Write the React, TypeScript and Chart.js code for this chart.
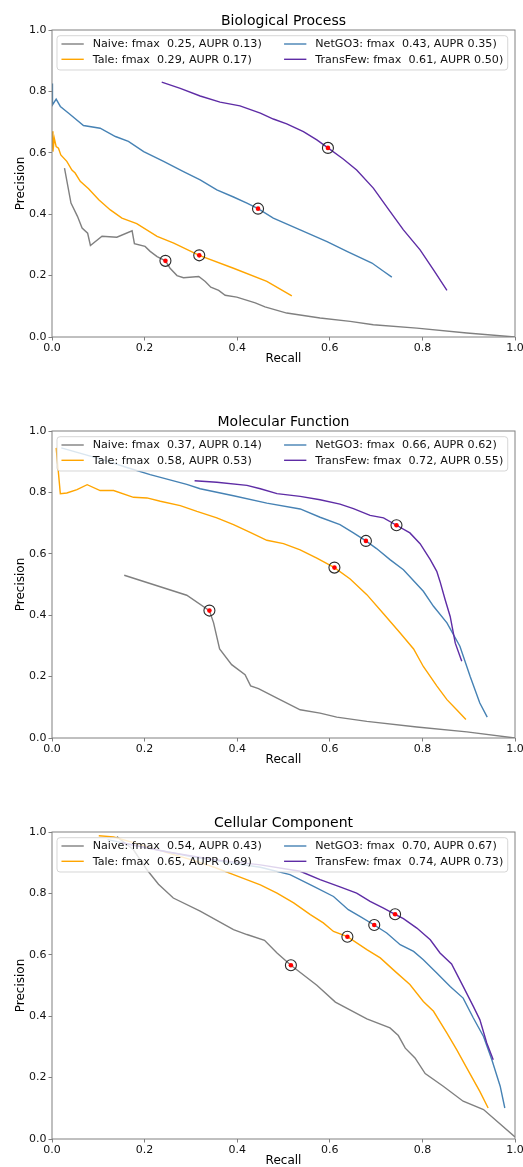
import React, { useEffect, useRef } from "react";
import { Chart, registerables } from "chart.js";

Chart.register(...registerables);

// ---------- shared ----------
const methodNames = ["Naive", "Tale", "NetGO3", "TransFew"];
const methodColors = ["#808080", "#FFA500", "#4682B4", "#5E2CA5"];
const axisTicks = [0, 0.2, 0.4, 0.6, 0.8, 1.0];

// ---------- Biological Process ----------
const bpTitle = "Biological Process";
const bpFmax = [0.25, 0.29, 0.43, 0.61];
const bpAupr = [0.13, 0.17, 0.35, 0.5];
const bpNaiveRecall = [0.027, 0.041, 0.055, 0.065, 0.077, 0.083, 0.108, 0.14, 0.173, 0.178, 0.201, 0.212, 0.227, 0.245, 0.255, 0.27, 0.284, 0.317, 0.331, 0.343, 0.36, 0.374, 0.399, 0.439, 0.46, 0.507, 0.579, 0.644, 0.694, 0.788, 0.896, 1.0];
const bpNaivePrecision = [0.55, 0.436, 0.393, 0.355, 0.338, 0.298, 0.328, 0.325, 0.346, 0.304, 0.295, 0.279, 0.262, 0.248, 0.224, 0.2, 0.193, 0.197, 0.181, 0.162, 0.152, 0.136, 0.13, 0.111, 0.098, 0.078, 0.062, 0.051, 0.04, 0.029, 0.013, 0.0];
const bpTaleRecall = [0.0, 0.002, 0.005, 0.009, 0.014, 0.019, 0.032, 0.043, 0.05, 0.061, 0.079, 0.101, 0.126, 0.151, 0.183, 0.227, 0.263, 0.318, 0.392, 0.464, 0.518];
const bpTalePrecision = [0.67, 0.604, 0.647, 0.62, 0.615, 0.593, 0.572, 0.544, 0.534, 0.507, 0.483, 0.447, 0.414, 0.387, 0.369, 0.328, 0.306, 0.266, 0.224, 0.181, 0.134];
const bpNetGO3Recall = [0.0, 0.001, 0.009, 0.018, 0.036, 0.068, 0.104, 0.137, 0.165, 0.198, 0.241, 0.284, 0.32, 0.356, 0.392, 0.421, 0.445, 0.478, 0.536, 0.594, 0.637, 0.691, 0.716, 0.734];
const bpNetGO3Precision = [0.826, 0.756, 0.775, 0.751, 0.729, 0.689, 0.68, 0.653, 0.637, 0.604, 0.572, 0.539, 0.512, 0.479, 0.456, 0.436, 0.418, 0.387, 0.349, 0.311, 0.279, 0.241, 0.214, 0.195];
const bpTransFewRecall = [0.237, 0.277, 0.32, 0.363, 0.406, 0.45, 0.478, 0.507, 0.543, 0.572, 0.596, 0.629, 0.658, 0.694, 0.73, 0.759, 0.795, 0.824, 0.853];
const bpTransFewPrecision = [0.83, 0.81, 0.785, 0.765, 0.753, 0.729, 0.71, 0.694, 0.669, 0.642, 0.616, 0.58, 0.544, 0.485, 0.409, 0.349, 0.284, 0.219, 0.152];
const bpOptRecall = [0.245, 0.318, 0.445, 0.596];
const bpOptPrecision = [0.248, 0.266, 0.418, 0.616];

// ---------- Molecular Function ----------
const mfTitle = "Molecular Function";
const mfFmax = [0.37, 0.58, 0.66, 0.72];
const mfAupr = [0.14, 0.53, 0.62, 0.55];
const mfNaiveRecall = [0.156, 0.291, 0.34, 0.349, 0.362, 0.388, 0.417, 0.429, 0.446, 0.486, 0.536, 0.579, 0.615, 0.68, 0.788, 0.896, 1.0];
const mfNaivePrecision = [0.53, 0.465, 0.415, 0.375, 0.29, 0.239, 0.206, 0.17, 0.161, 0.13, 0.092, 0.081, 0.068, 0.054, 0.036, 0.02, 0.0];
const mfTaleRecall = [0.009, 0.018, 0.032, 0.054, 0.076, 0.104, 0.133, 0.176, 0.205, 0.234, 0.277, 0.313, 0.356, 0.392, 0.428, 0.464, 0.5, 0.536, 0.572, 0.61, 0.644, 0.68, 0.716, 0.752, 0.781, 0.802, 0.831, 0.853, 0.874, 0.894];
const mfTalePrecision = [0.945, 0.796, 0.798, 0.809, 0.825, 0.806, 0.806, 0.784, 0.782, 0.771, 0.757, 0.738, 0.717, 0.695, 0.67, 0.644, 0.633, 0.613, 0.586, 0.555, 0.518, 0.467, 0.405, 0.342, 0.29, 0.233, 0.17, 0.125, 0.092, 0.06];
const mfNetGO3Recall = [0.02, 0.06, 0.111, 0.16, 0.212, 0.291, 0.32, 0.392, 0.464, 0.536, 0.579, 0.622, 0.651, 0.678, 0.701, 0.73, 0.759, 0.802, 0.824, 0.853, 0.881, 0.903, 0.924, 0.94];
const mfNetGO3Precision = [0.945, 0.928, 0.906, 0.882, 0.858, 0.826, 0.812, 0.789, 0.765, 0.746, 0.719, 0.695, 0.668, 0.642, 0.617, 0.581, 0.548, 0.478, 0.429, 0.375, 0.299, 0.201, 0.114, 0.068];
const mfTransFewRecall = [0.308, 0.356, 0.421, 0.45, 0.486, 0.536, 0.579, 0.622, 0.651, 0.687, 0.716, 0.744, 0.773, 0.795, 0.817, 0.831, 0.838, 0.849, 0.86, 0.871, 0.885];
const mfTransFewPrecision = [0.838, 0.833, 0.823, 0.812, 0.796, 0.787, 0.776, 0.762, 0.747, 0.725, 0.717, 0.693, 0.668, 0.633, 0.581, 0.543, 0.51, 0.451, 0.396, 0.309, 0.25];
const mfOptRecall = [0.34, 0.61, 0.678, 0.744];
const mfOptPrecision = [0.415, 0.555, 0.642, 0.693];

// ---------- Cellular Component ----------
const ccTitle = "Cellular Component";
const ccFmax = [0.54, 0.65, 0.7, 0.74];
const ccAupr = [0.43, 0.69, 0.67, 0.73];
const ccNaiveRecall = [0.14, 0.176, 0.205, 0.23, 0.262, 0.32, 0.392, 0.421, 0.459, 0.486, 0.516, 0.572, 0.612, 0.68, 0.73, 0.748, 0.763, 0.784, 0.806, 0.845, 0.888, 0.932, 1.0];
const ccNaivePrecision = [0.985, 0.942, 0.877, 0.83, 0.785, 0.742, 0.682, 0.666, 0.647, 0.606, 0.566, 0.501, 0.446, 0.391, 0.362, 0.337, 0.296, 0.264, 0.213, 0.172, 0.123, 0.096, 0.007];
const ccTaleRecall = [0.101, 0.133, 0.2, 0.25, 0.3, 0.349, 0.392, 0.45, 0.486, 0.522, 0.558, 0.586, 0.608, 0.638, 0.68, 0.709, 0.741, 0.773, 0.802, 0.824, 0.853, 0.874, 0.896, 0.924, 0.942];
const ccTalePrecision = [0.988, 0.984, 0.955, 0.932, 0.91, 0.886, 0.861, 0.828, 0.801, 0.769, 0.731, 0.704, 0.676, 0.659, 0.617, 0.59, 0.546, 0.503, 0.448, 0.416, 0.345, 0.291, 0.231, 0.155, 0.101];
const ccNetGO3Recall = [0.12, 0.2, 0.3, 0.4, 0.45, 0.514, 0.565, 0.608, 0.64, 0.665, 0.696, 0.723, 0.752, 0.781, 0.802, 0.831, 0.86, 0.888, 0.91, 0.932, 0.95, 0.968, 0.978];
const ccNetGO3Precision = [0.975, 0.95, 0.92, 0.896, 0.885, 0.861, 0.823, 0.79, 0.747, 0.725, 0.697, 0.671, 0.633, 0.611, 0.584, 0.541, 0.497, 0.459, 0.394, 0.334, 0.258, 0.172, 0.101];
const ccTransFewRecall = [0.15, 0.25, 0.35, 0.45, 0.536, 0.579, 0.622, 0.658, 0.687, 0.716, 0.741, 0.759, 0.788, 0.817, 0.838, 0.863, 0.888, 0.91, 0.924, 0.939, 0.953];
const ccTransFewPrecision = [0.965, 0.935, 0.91, 0.893, 0.872, 0.845, 0.821, 0.801, 0.774, 0.752, 0.732, 0.718, 0.687, 0.649, 0.606, 0.57, 0.497, 0.432, 0.389, 0.313, 0.258];
const ccOptRecall = [0.516, 0.638, 0.696, 0.741];
const ccOptPrecision = [0.566, 0.659, 0.697, 0.732];

type PanelSpec = {
  title: string;
  fmax: number[];
  aupr: number[];
  recalls: number[][];
  precisions: number[][];
  optRecall: number[];
  optPrecision: number[];
};

const panels: PanelSpec[] = [
  {
    title: bpTitle, fmax: bpFmax, aupr: bpAupr,
    recalls: [bpNaiveRecall, bpTaleRecall, bpNetGO3Recall, bpTransFewRecall],
    precisions: [bpNaivePrecision, bpTalePrecision, bpNetGO3Precision, bpTransFewPrecision],
    optRecall: bpOptRecall, optPrecision: bpOptPrecision,
  },
  {
    title: mfTitle, fmax: mfFmax, aupr: mfAupr,
    recalls: [mfNaiveRecall, mfTaleRecall, mfNetGO3Recall, mfTransFewRecall],
    precisions: [mfNaivePrecision, mfTalePrecision, mfNetGO3Precision, mfTransFewPrecision],
    optRecall: mfOptRecall, optPrecision: mfOptPrecision,
  },
  {
    title: ccTitle, fmax: ccFmax, aupr: ccAupr,
    recalls: [ccNaiveRecall, ccTaleRecall, ccNetGO3Recall, ccTransFewRecall],
    precisions: [ccNaivePrecision, ccTalePrecision, ccNetGO3Precision, ccTransFewPrecision],
    optRecall: ccOptRecall, optPrecision: ccOptPrecision,
  },
];

const FONT = '"DejaVu Sans", "Liberation Sans", sans-serif';
const PANEL_TOPS = [0, 401, 802];
const CANVAS_W = 530;
const CANVAS_H = 367;
const FRAME_COLOR = "#808080";

// Draws the matplotlib-like axes frame and a two-column legend inside the axes.
const mplDecor = {
  id: "mplDecor",
  afterDatasetsDraw(chart: any) {
    const ctx = chart.ctx as CanvasRenderingContext2D;
    const area = chart.chartArea;
    ctx.save();
    // frame (all four spines)
    ctx.strokeStyle = FRAME_COLOR;
    ctx.lineWidth = 1;
    ctx.strokeRect(area.left, area.top, area.right - area.left, area.bottom - area.top);

    // legend
    const items = chart.data.datasets.filter((d: any) => d.mplLegend);
    const fs = 11.15;
    ctx.font = `${fs}px ${FONT}`;
    const nRows = 2;
    const nCols = Math.ceil(items.length / nRows);
    const pad = 0.4 * fs;
    const handleLen = 2 * fs;
    const handlePad = 0.8 * fs;
    const colSpacing = 2 * fs;
    const boxLeft = area.left + 5;
    const boxTop = area.top + 5.7;
    const boxBottom = area.top + 40;
    const row0 = area.top + 14;
    const rowH = 15.3;
    const colX: number[] = [];
    let x = boxLeft + pad;
    for (let c = 0; c < nCols; c++) {
      colX.push(x);
      let w = 0;
      for (let r = 0; r < nRows; r++) {
        const it = items[c * nRows + r];
        if (it) w = Math.max(w, ctx.measureText(it.label).width);
      }
      x += handleLen + handlePad + w + colSpacing;
    }
    const boxRight = x - colSpacing + pad;
    // box
    const rad = 3;
    ctx.beginPath();
    ctx.moveTo(boxLeft + rad, boxTop);
    ctx.lineTo(boxRight - rad, boxTop);
    ctx.arcTo(boxRight, boxTop, boxRight, boxTop + rad, rad);
    ctx.lineTo(boxRight, boxBottom - rad);
    ctx.arcTo(boxRight, boxBottom, boxRight - rad, boxBottom, rad);
    ctx.lineTo(boxLeft + rad, boxBottom);
    ctx.arcTo(boxLeft, boxBottom, boxLeft, boxBottom - rad, rad);
    ctx.lineTo(boxLeft, boxTop + rad);
    ctx.arcTo(boxLeft, boxTop, boxLeft + rad, boxTop, rad);
    ctx.closePath();
    ctx.fillStyle = "rgba(255,255,255,0.8)";
    ctx.fill();
    ctx.strokeStyle = "rgba(204,204,204,0.8)";
    ctx.lineWidth = 1;
    ctx.stroke();
    // entries
    ctx.textBaseline = "middle";
    ctx.textAlign = "left";
    items.forEach((it: any, i: number) => {
      const c = Math.floor(i / nRows);
      const r = i % nRows;
      const y = row0 + r * rowH;
      const hx = colX[c];
      ctx.strokeStyle = it.borderColor;
      ctx.lineWidth = 1.4;
      ctx.beginPath();
      ctx.moveTo(hx, y);
      ctx.lineTo(hx + handleLen, y);
      ctx.stroke();
      ctx.fillStyle = "#111";
      ctx.fillText(it.label, hx + handleLen + handlePad, y + 0.5);
    });
    ctx.restore();
  },
};

function Panel({ spec, top }: { spec: PanelSpec; top: number }) {
  const ref = useRef<HTMLCanvasElement | null>(null);
  useEffect(() => {
    if (!ref.current) return;
    const lineSets = methodNames.map((name, i) => ({
      label: `${name}: fmax  ${spec.fmax[i].toFixed(2)}, AUPR ${spec.aupr[i].toFixed(2)})`,
      mplLegend: true,
      data: spec.recalls[i].map((r, k) => ({ x: r, y: spec.precisions[i][k] })),
      showLine: true,
      borderColor: methodColors[i],
      backgroundColor: methodColors[i],
      borderWidth: 1.4,
      pointRadius: 0,
      tension: 0,
      fill: false,
      order: 10 - i,
    }));
    const optData = spec.optRecall.map((r, k) => ({ x: r, y: spec.optPrecision[k] }));
    const ring = {
      label: "fmax ring",
      data: optData,
      showLine: false,
      pointStyle: "circle",
      pointRadius: 5.5,
      pointBorderWidth: 1.1,
      pointBorderColor: "#2a2a2a",
      pointBackgroundColor: "rgba(255,255,255,0)",
      order: 1,
    };
    const dot = {
      label: "fmax point",
      data: optData,
      showLine: false,
      pointStyle: "circle",
      pointRadius: 2.3,
      pointBorderWidth: 0,
      pointBackgroundColor: "#ff0000",
      pointBorderColor: "#ff0000",
      order: 0,
    };
    const tickCb = (v: any) => Number(v).toFixed(1);
    const chart = new Chart(ref.current, {
      type: "scatter",
      data: { datasets: [...lineSets, ring, dot] as any },
      options: {
        responsive: false,
        animation: false,
        events: [],
        layout: { padding: { top: 12.6, right: 15, bottom: 0, left: 0 } },
        plugins: {
          legend: { display: false },
          tooltip: { enabled: false },
          title: {
            display: true,
            text: spec.title,
            color: "#000",
            fullSize: false,
            font: { family: FONT, size: 14, weight: "normal", lineHeight: 1.2 },
            padding: { top: 0, bottom: 0.6 },
          },
        },
        scales: {
          x: {
            type: "linear",
            min: 0,
            max: 1,
            afterFit: (s: any) => { s.height = 30; },
            afterBuildTicks: (s: any) => { s.ticks = axisTicks.map((v) => ({ value: v })); },
            ticks: { callback: tickCb, color: "#111", font: { family: FONT, size: 11 }, padding: 1, maxRotation: 0 },
            grid: { drawOnChartArea: false, drawTicks: true, tickLength: 3.5, color: FRAME_COLOR },
            border: { display: false },
            title: { display: true, text: "Recall", color: "#000", font: { family: FONT, size: 12, lineHeight: 1.2 }, padding: { top: 0, bottom: 1 } },
          },
          y: {
            type: "linear",
            min: 0,
            max: 1,
            afterFit: (s: any) => { s.width = 52; },
            afterBuildTicks: (s: any) => { s.ticks = axisTicks.map((v) => ({ value: v })); },
            ticks: { callback: tickCb, color: "#111", font: { family: FONT, size: 11 }, padding: 2 },
            grid: { drawOnChartArea: false, drawTicks: true, tickLength: 3.5, color: FRAME_COLOR },
            border: { display: false },
            title: { display: true, text: "Precision", color: "#000", font: { family: FONT, size: 12, lineHeight: 1.2 }, padding: { top: 13.5, bottom: 0 } },
          },
        },
      } as any,
      plugins: [mplDecor],
    });
    return () => chart.destroy();
  }, [spec]);
  return (
    <canvas
      ref={ref}
      width={CANVAS_W}
      height={CANVAS_H}
      style={{ position: "absolute", left: 0, top, width: CANVAS_W, height: CANVAS_H }}
    />
  );
}

export default function App() {
  return (
    <div
      style={{
        position: "absolute",
        left: 0,
        top: 0,
        width: 523,
        height: 1167,
        overflow: "hidden",
        background: "#fff",
      }}
    >
      {panels.map((p, i) => (
        <Panel key={p.title} spec={p} top={PANEL_TOPS[i]} />
      ))}
    </div>
  );
}
